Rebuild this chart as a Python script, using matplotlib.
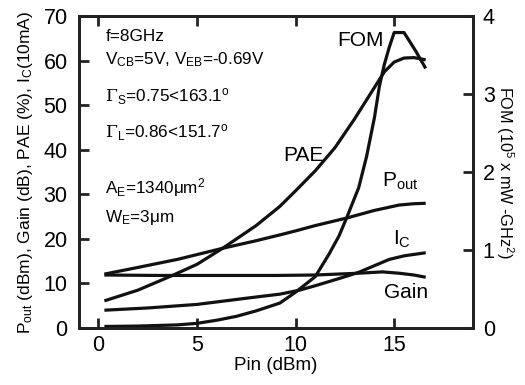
import matplotlib
matplotlib.use('Agg')
import matplotlib.pyplot as plt

plt.rcParams['font.family'] = ['Liberation Sans', 'DejaVu Sans']
plt.rcParams['mathtext.fontset'] = 'custom'
plt.rcParams['mathtext.rm'] = 'Liberation Sans'
plt.rcParams['mathtext.it'] = 'Liberation Sans:italic'
plt.rcParams['mathtext.sf'] = 'DejaVu Serif'

# Pout (dBm)
pout_x = [0.3, 2, 4, 6.3, 8, 9.2, 10, 11, 12.6, 14, 15.25, 16, 16.6]
pout_y = [12.1, 13.6, 15.4, 17.9, 19.6, 20.9, 21.8, 23.0, 24.7, 26.4, 27.6, 27.9, 28.0]

# Gain (dB)
gain_x = [0.3, 3, 6, 9, 11, 13.2, 14.4, 15.25, 16, 16.6]
gain_y = [11.9, 11.8, 11.8, 11.8, 11.9, 12.3, 12.6, 12.3, 11.9, 11.4]

# PAE (%)
pae_x = [0.3, 2, 3.75, 5, 6.3, 7, 8, 9.2, 10, 11, 12, 13, 14, 14.5, 15, 15.5, 16, 16.6]
pae_y = [6.1, 8.5, 11.8, 14.3, 17.9, 20.0, 23.0, 27.3, 30.8, 35.3, 40.5, 47.0, 54.0, 57.5, 59.7, 60.6, 60.7, 60.2]

# Ic (10 mA)
ic_x = [0.3, 2.5, 5, 7.7, 9.2, 10.2, 11, 12.2, 13.2, 14, 14.75, 15.5, 16.6]
ic_y = [4.0, 4.5, 5.3, 6.8, 7.6, 8.5, 9.5, 11.1, 12.5, 14.0, 15.4, 16.2, 16.9]

# FOM (10^5 x mW-GHz^2), right axis
fom_x = [0.3, 2, 4, 5, 6, 7, 8, 9.2, 10, 10.5, 11, 11.7, 12.2, 12.6, 13.2, 13.6,
         14, 14.25, 14.5, 14.75, 15.0, 15.5, 16.1, 16.6]
fom_y = [0.02, 0.025, 0.04, 0.06, 0.1, 0.15, 0.22, 0.32, 0.46, 0.56, 0.66, 0.95, 1.18,
         1.42, 1.8, 2.2, 2.7, 3.1, 3.38, 3.6, 3.79, 3.79, 3.55, 3.33]

fig = plt.figure(figsize=(5.25, 3.85), dpi=100)
ax = fig.add_axes([0.150, 0.148, 0.751, 0.810])
ax2 = ax.twinx()

lw = 2.3
for xs, ys in [(pout_x, pout_y), (gain_x, gain_y), (pae_x, pae_y), (ic_x, ic_y)]:
    ax.plot(xs, ys, color='#111111', lw=lw, solid_capstyle='butt')
ax2.plot(fom_x, fom_y, color='#111111', lw=lw, solid_capstyle='butt')

ax.set_xlim(-1, 19)
ax.set_ylim(0, 70)
ax2.set_ylim(0, 4)
ax.set_xticks([0, 5, 10, 15])
ax.set_yticks([0, 10, 20, 30, 40, 50, 60, 70])
ax2.set_yticks([0, 1, 2, 3, 4])

for a in (ax, ax2):
    for s in a.spines.values():
        s.set_linewidth(2.0)
        s.set_color('#222222')
ax.tick_params(axis='both', direction='in', length=7, width=2.0, labelsize=15.5,
               color='#222222')
ax.tick_params(axis='x', top=True, pad=5)
ax.tick_params(axis='y', pad=8)
ax2.tick_params(axis='y', direction='in', length=7, width=2.0, labelsize=15.5, pad=7,
                color='#222222')

ax.set_xlabel('Pin (dBm)', fontsize=13.5, labelpad=1)
ax.set_ylabel(r'P$_{\mathrm{out}}$ (dBm), Gain (dB), PAE (%), I$_{\mathrm{C}}$(10mA)',
              fontsize=12.5, labelpad=6)
ax2.set_ylabel(r'FOM (10$^{\mathrm{5}}$ x mW -GHz$^{\mathrm{2}}$)', fontsize=11.7,
               rotation=-90, labelpad=15)

tfs = 12.3
ax.text(0.35, 65.5, 'f=8GHz', fontsize=tfs, va='center')
ax.text(0.35, 60.2, r'V$_{\mathrm{CB}}$=5V, V$_{\mathrm{EB}}$=-0.69V', fontsize=tfs, va='center')
ax.text(0.35, 52.0, r'$\mathsf{\Gamma}_{\mathrm{S}}$=0.75<163.1$^{\mathrm{o}}$', fontsize=tfs, va='center')
ax.text(0.35, 43.8, r'$\mathsf{\Gamma}_{\mathrm{L}}$=0.86<151.7$^{\mathrm{o}}$', fontsize=tfs, va='center')
ax.text(0.35, 31.5, r'A$_{\mathrm{E}}$=1340μm$^{\mathrm{2}}$', fontsize=tfs, va='center')
ax.text(0.35, 24.8, r'W$_{\mathrm{E}}$=3μm', fontsize=tfs, va='center')

lfs = 15
ax.text(13.3, 64.5, 'FOM', fontsize=lfs, ha='center', va='center')
ax.text(10.4, 38.8, 'PAE', fontsize=lfs, ha='center', va='center')
ax.text(15.3, 33.0, r'P$_{\mathrm{out}}$', fontsize=lfs, ha='center', va='center')
ax.text(15.4, 20.0, r'I$_{\mathrm{C}}$', fontsize=lfs, ha='center', va='center')
ax.text(15.6, 8.0, 'Gain', fontsize=lfs, ha='center', va='center')

fig.savefig('out.png', dpi=100)
